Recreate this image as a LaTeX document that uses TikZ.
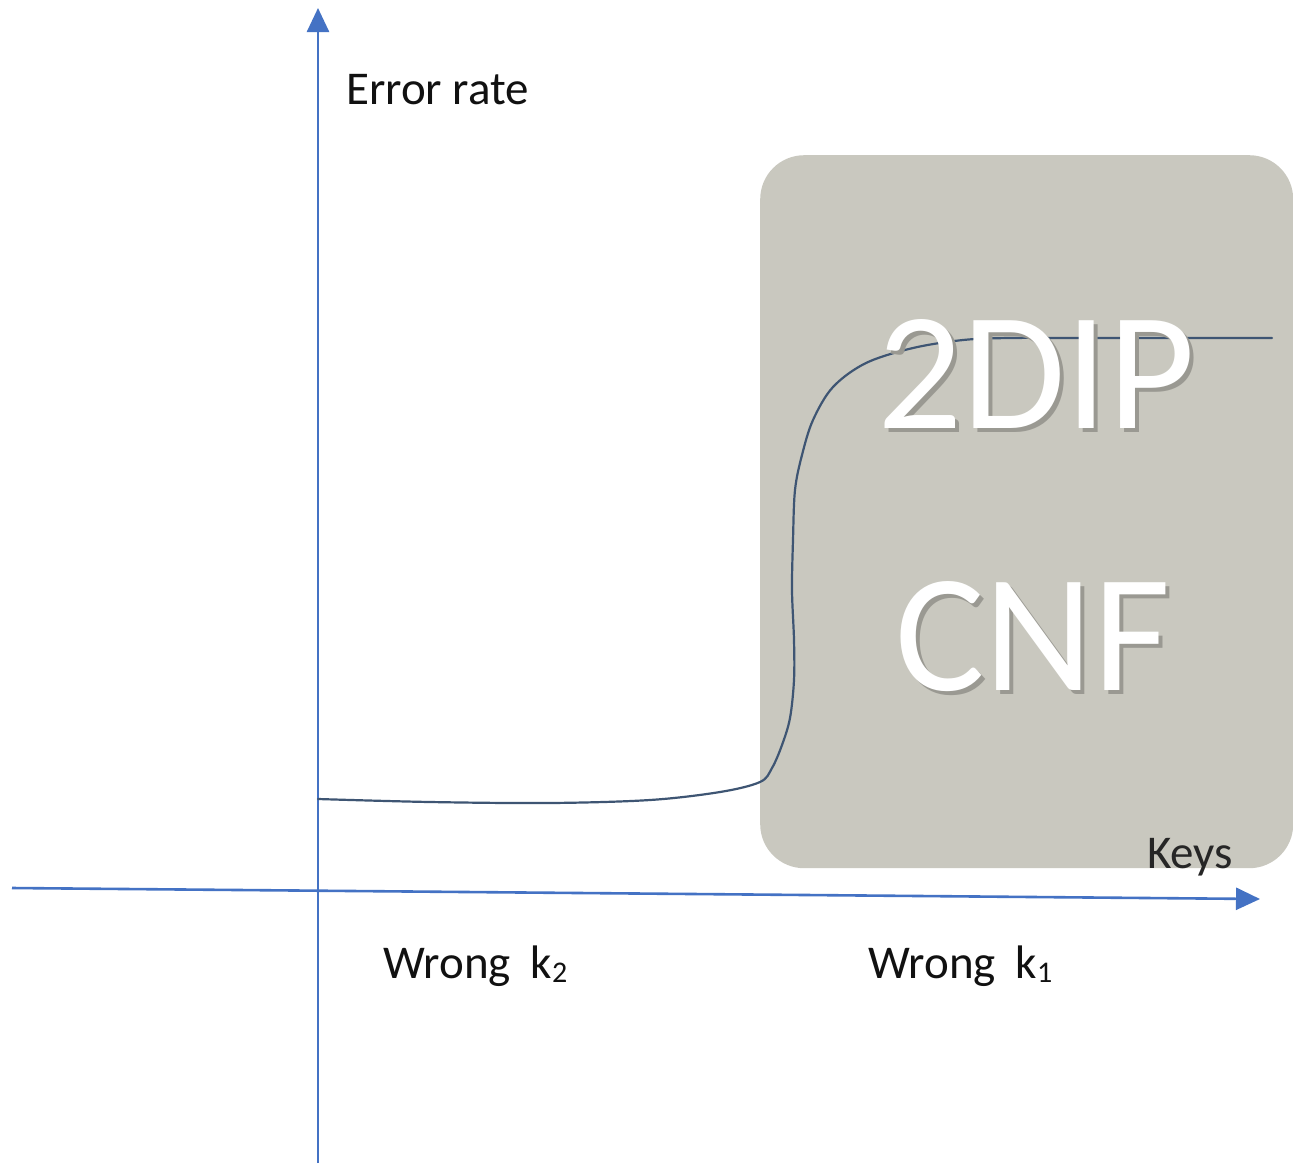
\documentclass[tikz,border=0pt]{standalone}
\usepackage{fontspec}
\setmainfont{Carlito}
\usetikzlibrary{arrows.meta}

\definecolor{axisblue}{HTML}{4472C4}
\definecolor{curveslate}{HTML}{3E5573}
\definecolor{panelgray}{HTML}{C9C8BF}
\definecolor{panelshade}{HTML}{9A9992}
\definecolor{labelink}{HTML}{111111}

% white lettering with a soft dark drop shadow behind it
\newcommand{\shadowed}[1]{%
  \rlap{\kern4pt\raisebox{-4pt}{\textcolor{panelshade}{#1}}}#1}

\tikzset{
  axisline/.style={draw=axisblue, line width=2.6pt,
    -{Triangle[length=24pt,width=22pt]}},
  curveline/.style={draw=curveslate, line width=2.2pt, line cap=round},
  axislabel/.style={inner sep=0pt, anchor=base west, text=labelink,
    font=\fontsize{47}{52}\selectfont},
  biglabel/.style={inner sep=0pt, anchor=base west, text=white,
    font=\fontsize{168}{180}\selectfont},
}

\begin{document}
\begin{tikzpicture}[x=1pt,y=-1pt]
  \useasboundingbox (0,0) rectangle (1293,1163);
  \fill[white] (0,0) rectangle (1293,1163);

  % shaded region of the key space
  \node (panel) [fill=panelgray, rounded corners=44pt, inner sep=0pt,
    minimum width=533pt, minimum height=713pt, anchor=north west]
    at (760,155) {};

  % axes
  \coordinate (yfoot) at (318,1163);
  \coordinate (ytip) at (318,8);
  \coordinate (xfoot) at (12,888);
  \coordinate (xtip) at (1260,899);
  \draw[axisline] (yfoot) -- (ytip);
  \draw[axisline] (xfoot) -- (xtip);

  % error-rate curve
  \draw[curveline] plot[smooth, tension=0.55] coordinates {
    (318,799) (430,802) (550,803) (650,800) (720,792) (760,782)
    (772,768) (782,745) (790,718) (794,680) (794,640) (792,590)
    (793,540) (795,490) (802,455) (813,420) (833,387) (866,363)
    (913,348) (963,340) (1010,338) (1100,338) (1272,338)};

  % axis and region labels
  \node (errlabel) [axislabel] at (346,104) {Error rate};
  \node (keyslabel) [axislabel, text=black!85] at (1147,868) {Keys};
  \node (wrongtwo) [axislabel] at (383,978)
    {Wrong\hspace{20pt}k\raisebox{-4pt}{\fontsize{30}{31}\selectfont 2}};
  \node (wrongone) [axislabel] at (868,978)
    {Wrong\hspace{20pt}k\raisebox{-4pt}{\fontsize{30}{31}\selectfont 1}};

  % method names on the shaded region
  \node (dip) [biglabel] at (877,428) {\shadowed{2DIP}};
  \node (cnf) [biglabel] at (895,690) {\shadowed{CNF}};
\end{tikzpicture}
\end{document}
